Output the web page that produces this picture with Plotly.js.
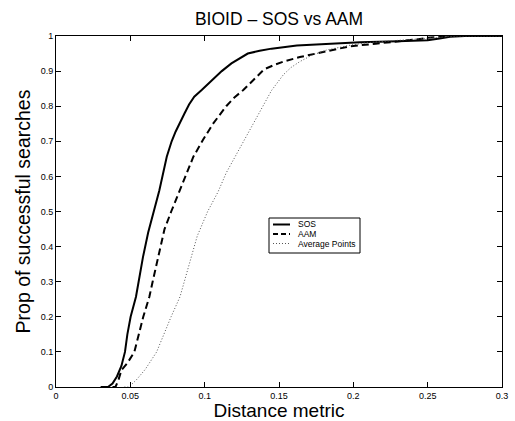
<!DOCTYPE html>
<html>
<head>
<meta charset="utf-8">
<script src="https://cdn.plot.ly/plotly-3.0.1.min.js"></script>
<style>html,body{margin:0;padding:0;background:#fff;}#chart{width:515px;height:421px;}</style>
</head>
<body>
<div id="chart"></div>
<script>
// SOS (solid)
const sosX = [0.030,0.035,0.038,0.041,0.044,0.0464,0.048,0.0502,0.0538,0.0554,0.0585,0.062,0.066,0.0695,0.0745,0.0778,0.0805,0.0834,0.0865,0.0895,0.093,0.098,0.105,0.1115,0.118,0.123,0.129,0.137,0.145,0.162,0.18,0.2045,0.23,0.25,0.258,0.265,0.275,0.3];
const sosY = [0,0,0.01,0.03,0.06,0.1,0.15,0.2,0.257,0.3,0.37,0.44,0.5,0.56,0.656,0.7,0.728,0.751,0.78,0.805,0.827,0.846,0.873,0.9,0.922,0.935,0.95,0.958,0.964,0.973,0.977,0.982,0.985,0.988,0.993,0.998,1,1];
// AAM (dashed)
const aamX = [0.038,0.040,0.042,0.044,0.048,0.0527,0.0587,0.0628,0.065,0.069,0.073,0.0775,0.0823,0.087,0.0924,0.099,0.1058,0.1145,0.120,0.126,0.132,0.140,0.147,0.153,0.164,0.175,0.186,0.198,0.215,0.231,0.242,0.252,0.265,0.3];
const aamY = [0,0,0.02,0.048,0.068,0.1,0.2,0.257,0.3,0.375,0.45,0.5,0.55,0.6,0.656,0.705,0.751,0.8,0.825,0.846,0.872,0.905,0.918,0.927,0.94,0.95,0.962,0.971,0.978,0.984,0.99,0.996,1,1];
// Average Points (dotted)
const avgX = [0.046,0.049,0.054,0.060,0.0677,0.0725,0.0774,0.0834,0.0863,0.091,0.095,0.102,0.109,0.1145,0.1204,0.1265,0.1327,0.139,0.145,0.153,0.158,0.164,0.172,0.182,0.198,0.209,0.23,0.25,0.27,0.3];
const avgY = [0,0,0.02,0.05,0.1,0.15,0.2,0.257,0.3,0.37,0.43,0.5,0.556,0.61,0.656,0.705,0.751,0.8,0.845,0.89,0.91,0.927,0.945,0.96,0.974,0.981,0.987,0.993,1,1];

const seriesNames = ['SOS', 'AAM', 'Average Points'];
const xTicks = [0,0.05,0.1,0.15,0.2,0.25,0.3];
const xTickText = ['0','0.05','0.1','0.15','0.2','0.25','0.3'];
const yTicks = [0,0.1,0.2,0.3,0.4,0.5,0.6,0.7,0.8,0.9,1];
const yTickText = ['0','0.1','0.2','0.3','0.4','0.5','0.6','0.7','0.8','0.9','1'];

const FONT = 'Liberation Sans, Arial, Helvetica, sans-serif';
const W = 515, H = 421, M = {l: 56, r: 13, t: 36, b: 34};
const PW = W - M.l - M.r, PH = H - M.t - M.b;
// pixel -> paper helpers (for the hand-drawn legend box)
const px = v => (v - M.l) / PW;
const py = v => (H - M.b - v) / PH;

const styles = [
  {color: '#000', width: 2, dash: 'solid'},
  {color: '#000', width: 2, dash: '7px,4px'},
  {color: '#555', width: 1, dash: '1px,2px'}
];

const traces = [
  {x: sosX, y: sosY, name: seriesNames[0], mode: 'lines', line: styles[0], showlegend: false},
  {x: aamX, y: aamY, name: seriesNames[1], mode: 'lines', line: styles[1], showlegend: false},
  {x: avgX, y: avgY, name: seriesNames[2], mode: 'lines', line: styles[2], showlegend: false}
];

const axisCommon = {
  showgrid: false, zeroline: false, showline: true, linecolor: '#000', linewidth: 1,
  mirror: 'ticks', ticks: 'inside', ticklen: 5, tickcolor: '#000', tickwidth: 1,
  tickfont: {family: FONT, size: 9, color: '#000'}, tickmode: 'array', automargin: false
};

// legend (drawn with shapes + annotations)
const legBox = {x0: 269, x1: 360, y0: 218, y1: 253};
const rowY = [224.5, 234, 243.5];
const shapes = [{type: 'rect', xref: 'paper', yref: 'paper',
  x0: px(legBox.x0), x1: px(legBox.x1), y0: py(legBox.y1), y1: py(legBox.y0),
  line: {color: '#000', width: 1}, fillcolor: '#fff', layer: 'above'}];
const annotations = [];
seriesNames.forEach((n, i) => {
  shapes.push({type: 'line', xref: 'paper', yref: 'paper', layer: 'above',
    x0: px(273), x1: px(290), y0: py(rowY[i]), y1: py(rowY[i]),
    line: {color: styles[i].color, width: styles[i].width, dash: i === 1 ? '5px,3px' : styles[i].dash}});
  annotations.push({xref: 'paper', yref: 'paper', x: px(296), y: py(rowY[i]),
    xanchor: 'left', yanchor: 'middle', showarrow: false, text: n,
    font: {family: FONT, size: 8.5, color: '#000'}});
});

const layout = {
  width: W, height: H,
  margin: M,
  paper_bgcolor: '#fff', plot_bgcolor: '#fff',
  font: {family: FONT, color: '#000'},
  title: {text: 'BIOID \u2013 SOS vs AAM', font: {family: FONT, size: 17.5, color: '#000'},
          x: 279 / W, xanchor: 'center', y: 1 - 19 / H, yanchor: 'middle'},
  xaxis: Object.assign({}, axisCommon, {
    range: [0, 0.3], tickvals: xTicks, ticktext: xTickText,
    title: {text: 'Distance metric', font: {family: FONT, size: 19, color: '#000'}, standoff: 2}
  }),
  yaxis: Object.assign({}, axisCommon, {
    range: [0, 1], tickvals: yTicks, ticktext: yTickText,
    title: {text: 'Prop of successful searches', font: {family: FONT, size: 19.5, color: '#000'}, standoff: 4}
  }),
  showlegend: false,
  shapes: shapes,
  annotations: annotations
};

Plotly.newPlot('chart', traces, layout, {displayModeBar: false, staticPlot: true});
</script>
</body>
</html>
